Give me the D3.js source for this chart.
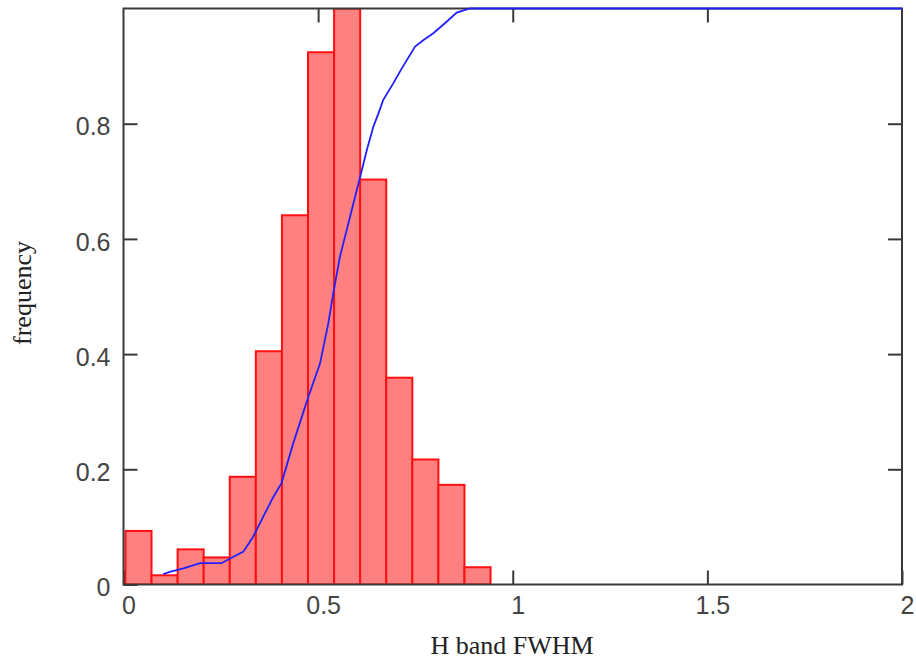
<!DOCTYPE html>
<html>
<head>
<meta charset="utf-8">
<script src="https://cdn.jsdelivr.net/npm/d3@7"></script>
<style>
  body { margin: 0; background: #fff; }
  svg { display: block; }
</style>
</head>
<body>
<svg width="916" height="663"></svg>
<script>
// histogram: bins start at binStart, each binWidth wide
const binStart = 0.005,
  binWidth = 0.067,
  freq = [0.093, 0.016, 0.061, 0.047, 0.187, 0.405, 0.641, 0.924, 1.0, 0.703, 0.359, 0.217, 0.173, 0.030]

// cumulative curve
const cdfX = [0.102, 0.119, 0.154, 0.197, 0.252, 0.274, 0.308, 0.333, 0.359, 0.385, 0.406, 0.436, 0.475, 0.505,
  0.526, 0.539, 0.556, 0.608, 0.625, 0.642, 0.655, 0.667, 0.693, 0.715, 0.749, 0.770, 0.796, 0.830, 0.856, 0.890, 2.0]
const cdfY = [0.018, 0.022, 0.028, 0.037, 0.037, 0.045, 0.057, 0.083, 0.118, 0.152, 0.176, 0.245, 0.326, 0.384,
  0.453, 0.506, 0.569, 0.708, 0.754, 0.795, 0.818, 0.841, 0.870, 0.896, 0.934, 0.945, 0.957, 0.977, 0.993, 1.0, 1.0]

const xTicks = [0, 0.5, 1, 1.5, 2],
  yTicks = [0, 0.2, 0.4, 0.6, 0.8]

const svg = d3.select('svg'),
  pLeft = 123.5,
  pRight = 902,
  pTop = 8.5,
  pBottom = 584.5,
  x = d3.scaleLinear().domain([0, 2]).range([pLeft, pRight]),
  y = d3.scaleLinear().domain([0, 1]).range([pBottom, pTop]),
  axisColor = '#3a3a3a',
  tickFont = '"Liberation Sans", Arial, sans-serif',
  titleFont = '"Liberation Serif", "Times New Roman", serif'

svg.append('clipPath').attr('id', 'plot')
  .append('rect').attr('x', pLeft).attr('y', pTop).attr('width', pRight - pLeft).attr('height', pBottom - pTop)

function styleAxis(g) {
  g.select('.domain').remove()
  g.selectAll('.tick line').attr('stroke', axisColor).attr('stroke-width', 2)
  g.selectAll('.tick text').attr('fill', '#444').style('font-family', tickFont).style('font-size', '25px')
}

// inward ticks on all four sides
svg.append('g')
  .attr('transform', `translate(0,${pBottom})`)
  .call(d3.axisBottom(x).tickValues(xTicks).tickSize(-14).tickPadding(12).tickFormat(d => String(d)))
  .call(styleAxis)
  .selectAll('.tick text').attr('dx', 5)

svg.append('g')
  .attr('transform', `translate(${pLeft},0)`)
  .call(d3.axisLeft(y).tickValues(yTicks).tickSize(-14).tickPadding(13).tickFormat(d => String(d)))
  .call(styleAxis)
  .selectAll('.tick text').attr('dy', '0.45em')

svg.append('g')
  .attr('transform', `translate(0,${pTop})`)
  .call(d3.axisTop(x).tickValues(xTicks.slice(1, -1)).tickSize(-14).tickFormat(''))
  .call(styleAxis)

svg.append('g')
  .attr('transform', `translate(${pRight},0)`)
  .call(d3.axisRight(y).tickValues(yTicks.slice(1)).tickSize(-14).tickFormat(''))
  .call(styleAxis)

// bars
svg.append('g')
  .attr('clip-path', 'url(#plot)')
  .selectAll('rect')
  .data(freq)
  .join('rect')
  .attr('x', (d, i) => x(binStart + i * binWidth))
  .attr('width', (d, i) => x(binStart + (i + 1) * binWidth) - x(binStart + i * binWidth))
  .attr('y', d => y(d))
  .attr('height', d => y(0) - y(d))
  .attr('fill', '#ff8080')
  .attr('stroke', '#ff1010')
  .attr('stroke-width', 2)

// frame
svg.append('rect')
  .attr('x', pLeft).attr('y', pTop)
  .attr('width', pRight - pLeft).attr('height', pBottom - pTop)
  .attr('fill', 'none')
  .attr('stroke', axisColor)
  .attr('stroke-width', 2)

// cumulative line
const line = d3.line().x(d => x(d[0])).y(d => y(d[1]))
svg.append('path')
  .attr('d', line(d3.zip(cdfX, cdfY)))
  .attr('fill', 'none')
  .attr('stroke', '#2020ff')
  .attr('stroke-width', 1.8)

// axis titles
svg.append('text')
  .attr('x', 512).attr('y', 654)
  .attr('text-anchor', 'middle')
  .style('font-family', titleFont).style('font-size', '26px').attr('fill', '#222')
  .text('H band FWHM')

svg.append('text')
  .attr('transform', 'translate(31,293) rotate(-90)')
  .attr('text-anchor', 'middle')
  .style('font-family', titleFont).style('font-size', '26px').attr('fill', '#222')
  .text('frequency')
</script>
</body>
</html>
